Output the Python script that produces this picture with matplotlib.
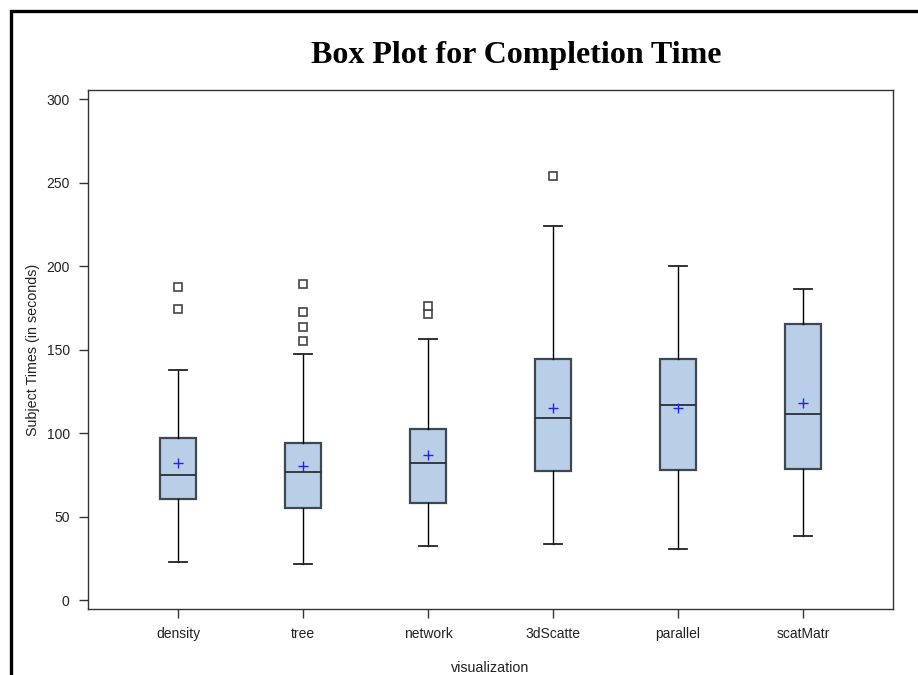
#!/usr/bin/env python3
"""Box plot of completion time per visualization"""
import matplotlib
matplotlib.use('Agg')
import matplotlib.pyplot as plt
from matplotlib.lines import Line2D

# Data
categories = ['density', 'tree', 'network', '3dScatte', 'parallel', 'scatMatr']
q1 = [60.9, 55.2, 58.1, 77.3, 78.1, 78.5]
median = [75.1, 76.7, 82.4, 109.4, 117.1, 111.4]
q3 = [97.0, 94.4, 102.8, 144.6, 144.6, 165.6]
whisker_low = [23.2, 21.8, 32.4, 33.8, 31.0, 38.8]
whisker_high = [137.9, 147.6, 156.3, 223.8, 200.1, 186.2]
means = [82.1, 80.6, 87.0, 115.0, 115.2, 118.1]
outliers = [
    [174.6, 187.4],
    [155.2, 163.8, 172.4, 189.5],
    [171.6, 176.3],
    [254.1],
    [],
    [],
]
yticks = [0, 50, 100, 150, 200, 250, 300]

plt.rcParams['font.family'] = ['Liberation Sans', 'DejaVu Sans']

W, H = 918, 675
fig = plt.figure(figsize=(W / 100, H / 100), dpi=100)
ax = fig.add_axes([88 / W, 1 - 609.3 / H, (893 - 88) / W, (609.3 - 90) / H])

stats = []
for i, name in enumerate(categories):
    stats.append(dict(label=name, q1=q1[i], med=median[i], q3=q3[i],
                      whislo=whisker_low[i], whishi=whisker_high[i],
                      mean=means[i], fliers=outliers[i]))

positions = list(range(1, len(categories) + 1))
ax.bxp(stats, positions=positions, widths=0.293, showmeans=True,
       patch_artist=True,
       boxprops=dict(facecolor='#b8cfe7', edgecolor='#3e4853', linewidth=1.6),
       medianprops=dict(color='#2a2f36', linewidth=1.3),
       whiskerprops=dict(color='black', linewidth=1.0),
       capprops=dict(color='#222222', linewidth=1.3),
       capwidths=0.14,
       meanprops=dict(marker='+', markeredgecolor='#2222ee', markersize=7,
                      markeredgewidth=1.0, linestyle='none'),
       flierprops=dict(marker='s', markerfacecolor='white',
                       markeredgecolor='#444444', markersize=6.3,
                       markeredgewidth=1.2, linestyle='none'))

ax.set_xlim(0.28, 6.72)
ax.set_ylim(-5.3, 305.4)
ax.set_yticks(yticks)
ax.set_xticks(positions)
ax.set_xticklabels(categories)

for side in ['left', 'bottom', 'right', 'top']:
    ax.spines[side].set_color('#333333')
    ax.spines[side].set_linewidth(1.0)
ax.tick_params(axis='both', direction='out', length=6.2, width=1.0,
               color='#333333', labelsize=10, labelcolor='#222222')
ax.tick_params(axis='y', pad=7)
ax.tick_params(axis='x', pad=6.5)

ax.set_xlabel('visualization', fontsize=10.3, color='#222222', labelpad=14.2)
ax.set_ylabel('Subject Times (in seconds)', fontsize=10.3, color='#222222',
              labelpad=4.6)

fig.text(516.7 / W, 1 - 63.3 / H, 'Box Plot for Completion Time',
         ha='center', va='baseline', fontsize=23.0, fontweight='bold',
         family=['Liberation Serif', 'DejaVu Serif'])

# cropped outer frame: left and top edges only
fig.add_artist(Line2D([10.5 / W, 10.5 / W, 1.0], [0.0, 1 - 11 / H, 1 - 11 / H],
                      transform=fig.transFigure, color='black', linewidth=2.4,
                      solid_joinstyle='miter'))

plt.savefig('out.png', dpi=100)
print("Generated: out.png")
